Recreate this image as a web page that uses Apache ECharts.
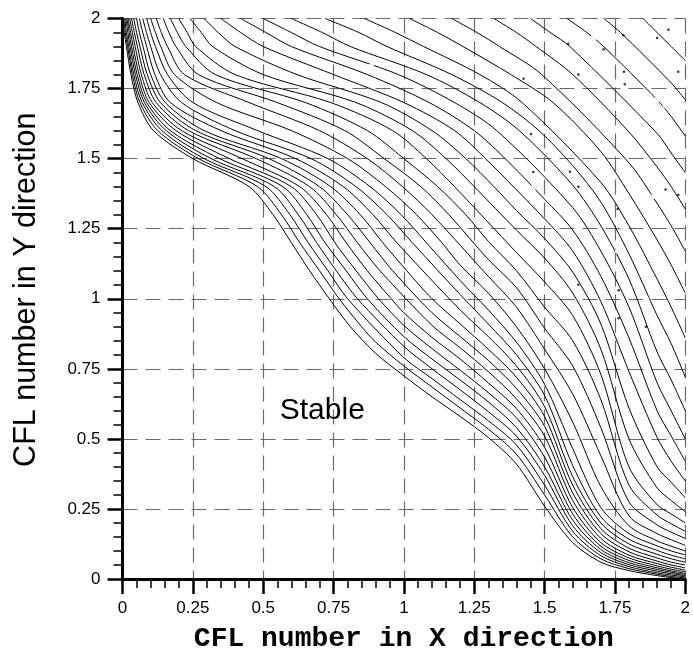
<!DOCTYPE html>
<html><head><meta charset="utf-8">
<script src="https://cdn.jsdelivr.net/npm/echarts@6/dist/echarts.min.js"></script>
<style>html,body{margin:0;padding:0;background:#fff}#c{width:693px;height:658px}</style>
</head><body><div id="c"></div>
<script>
// Shared levels: upper half -> x at y = level ; lower half -> y at x = level
const levels = [2.0, 1.95, 1.9, 1.8, 1.7, 1.6, 1.5, 1.4, 1.3, 1.2, 1.1, 1.0, 0.9];

// Upper-left half of each contour: x where y = levels[k]
const upperX = [
  [0.000,0.006,0.014,0.030,0.055,0.110,0.250,0.450,0.535,0.600,0.665,0.735,0.810],
  [0.004,0.010,0.018,0.035,0.062,0.125,0.270,0.480,0.565,0.630,0.700,0.770,0.850],
  [0.008,0.014,0.022,0.040,0.070,0.140,0.290,0.510,0.595,0.660,0.730,0.800],
  [0.012,0.019,0.027,0.046,0.078,0.155,0.315,0.540,0.625,0.690,0.760,0.835],
  [0.016,0.024,0.032,0.052,0.086,0.170,0.345,0.570,0.655,0.720,0.795,0.870],
  [0.020,0.029,0.038,0.059,0.095,0.190,0.380,0.600,0.690,0.755,0.830,0.910],
  [0.026,0.035,0.045,0.067,0.106,0.210,0.425,0.630,0.725,0.795,0.870,0.955],
  [0.032,0.042,0.053,0.077,0.120,0.235,0.475,0.665,0.760,0.835,0.915],
  [0.040,0.050,0.062,0.088,0.135,0.260,0.520,0.700,0.800,0.880,0.960],
  [0.050,0.060,0.073,0.100,0.152,0.290,0.565,0.740,0.845,0.925,1.010],
  [0.060,0.072,0.086,0.115,0.170,0.350,0.615,0.785,0.890,0.975],
  [0.072,0.085,0.100,0.135,0.210,0.400,0.670,0.830,0.940,1.030],
  [0.086,0.100,0.117,0.160,0.250,0.480,0.730,0.880,0.990,1.080],
  [0.100,0.117,0.136,0.185,0.335,0.600,0.800,0.935,1.045,1.135],
  [0.120,0.138,0.160,0.220,0.450,0.700,0.870,0.995,1.100],
  [0.145,0.165,0.190,0.270,0.550,0.790,0.930,1.060,1.160],
  [0.170,0.195,0.225,0.330,0.650,0.870,1.000,1.120,1.220],
  [0.200,0.230,0.260,0.400,0.740,0.960,1.080,1.180],
  [0.240,0.280,0.320,0.500,0.830,1.030,1.150,1.250],
  [0.290,0.340,0.400,0.620,0.920,1.100,1.220,1.320],
  [0.350,0.420,0.500,0.750,1.000,1.180,1.290],
  [0.420,0.510,0.600,0.870,1.090,1.250,1.360],
  [0.500,0.600,0.700,0.980,1.180,1.330],
  [0.600,0.710,0.810,1.080,1.270,1.410],
  [0.720,0.840,0.940,1.170,1.350,1.480],
  [0.860,0.970,1.070,1.270,1.420],
  [1.020,1.120,1.210,1.380,1.530],
  [1.170,1.260,1.340,1.490],
  [1.320,1.400,1.470,1.600],
  [1.450,1.520,1.590],
  [1.580,1.650,1.710],
  [1.710,1.770],
  [1.850,1.900]
];

// Lower-right half of each contour: y where x = levels[k]
const lowerY = [
  [0.000,0.005,0.012,0.030,0.060,0.130,0.260,0.410,0.505,0.580,0.650,0.725,0.805],
  [0.004,0.009,0.017,0.037,0.072,0.150,0.300,0.445,0.535,0.610,0.685,0.760,0.845],
  [0.008,0.014,0.022,0.044,0.083,0.170,0.335,0.478,0.565,0.640,0.715,0.790],
  [0.012,0.019,0.028,0.051,0.094,0.190,0.370,0.510,0.597,0.675,0.750,0.830],
  [0.016,0.024,0.034,0.058,0.105,0.210,0.400,0.540,0.632,0.710,0.785,0.865],
  [0.020,0.029,0.040,0.066,0.117,0.232,0.435,0.575,0.665,0.745,0.822,0.905],
  [0.026,0.035,0.047,0.075,0.130,0.255,0.470,0.608,0.700,0.785,0.862,0.950],
  [0.032,0.042,0.055,0.085,0.145,0.280,0.510,0.643,0.740,0.825,0.905],
  [0.040,0.050,0.064,0.097,0.162,0.307,0.545,0.680,0.780,0.865,0.950],
  [0.050,0.060,0.075,0.110,0.180,0.335,0.580,0.720,0.820,0.910,1.000],
  [0.060,0.072,0.088,0.125,0.200,0.365,0.615,0.760,0.865,0.960],
  [0.072,0.085,0.102,0.142,0.222,0.405,0.655,0.800,0.910,1.015],
  [0.086,0.100,0.118,0.162,0.255,0.465,0.695,0.845,0.960,1.065],
  [0.100,0.117,0.136,0.190,0.330,0.560,0.750,0.900,1.020,1.120],
  [0.120,0.140,0.162,0.225,0.440,0.660,0.820,0.970,1.080],
  [0.145,0.167,0.193,0.275,0.540,0.760,0.895,1.040,1.140],
  [0.170,0.197,0.228,0.335,0.640,0.850,0.970,1.100,1.205],
  [0.200,0.232,0.265,0.400,0.730,0.940,1.060,1.165],
  [0.240,0.280,0.325,0.500,0.820,1.020,1.145,1.245],
  [0.290,0.345,0.400,0.610,0.910,1.095,1.215,1.315],
  [0.350,0.420,0.505,0.740,0.990,1.170,1.285],
  [0.420,0.510,0.600,0.860,1.080,1.245,1.355],
  [0.500,0.600,0.700,0.970,1.170,1.325],
  [0.600,0.710,0.810,1.070,1.260,1.405],
  [0.720,0.840,0.940,1.160,1.345,1.475],
  [0.860,0.970,1.070,1.260,1.415],
  [1.020,1.120,1.210,1.375,1.525],
  [1.170,1.260,1.340,1.485],
  [1.320,1.400,1.470,1.595],
  [1.450,1.520,1.590],
  [1.580,1.650,1.710],
  [1.710,1.770],
  [1.850,1.900]
];

// Small closed contour islands and specks in the noisy upper-right region
const noiseLoops = [[0.884,1.83],[1.142,1.84],[1.62,1.58],[1.673,1.93],[1.90,1.71],[1.93,1.69],[1.90,1.29],[1.88,1.36],[1.76,1.17],[1.86,1.08],[1.86,1.00],[1.463,1.40],[1.41,1.80]];
const noiseDots = [[1.425,1.785],[1.452,1.588],[1.46,1.452],[1.59,1.453],[1.62,1.40],[1.71,1.89],[1.62,1.80],[1.584,1.91],[1.78,1.94],[1.782,1.81],[1.76,1.32],[1.785,1.765],[1.975,1.81],[1.93,1.39],[1.975,1.37],[1.763,0.93],[1.86,0.90],[1.62,1.05],[1.763,1.03],[1.94,1.96],[1.90,1.93]];

const xTickLabels = ['0','0.25','0.5','0.75','1','1.25','1.5','1.75','2'];
const yTickLabels = ['0','0.25','0.5','0.75','1','1.25','1.5','1.75','2'];
const stableText = 'Stable';
const stableAt = [[0.71, 0.60]];

function contourPoints(i) {
  const pts = [];
  upperX[i].forEach((x, k) => pts.push([x, levels[k]]));
  const lo = lowerY[i];
  for (let k = lo.length - 1; k >= 0; k--) pts.push([levels[k], lo[k]]);
  return pts;
}

const series = upperX.map((_, i) => ({
  type: 'line', data: contourPoints(i), showSymbol: false, symbol: 'none',
  smooth: 0.3, clip: true, silent: true, animation: false,
  lineStyle: { color: '#000', width: 1 }, z: 3
}));
series.push({
  type: 'scatter', data: noiseLoops, symbol: 'emptyCircle', symbolSize: 4,
  itemStyle: { color: '#fff', borderColor: '#000', borderWidth: 1 }, silent: true, animation: false, z: 4
});
series.push({
  type: 'scatter', data: noiseDots, symbol: 'circle', symbolSize: 2.5,
  itemStyle: { color: '#000' }, silent: true, animation: false, z: 4
});
series.push({
  type: 'scatter', data: stableAt, symbolSize: 1, silent: true, animation: false, z: 5,
  itemStyle: { color: '#000', opacity: 0 },
  label: { show: true, position: 'inside', formatter: stableText, fontSize: 30,
           fontFamily: 'Liberation Sans, Arial, sans-serif', color: '#000',
           textBorderWidth: 0, textBorderColor: 'transparent', opacity: 1 }
});

const axisCommon = (labels) => ({
  type: 'value', min: 0, max: 2, interval: 0.25,
  axisLine: { show: true, onZero: false, lineStyle: { color: '#000', width: 3 } },
  axisTick: { show: true, inside: false, length: 15, lineStyle: { color: '#000', width: 2.5 } },
  minorTick: { show: true, splitNumber: 5, length: 9, lineStyle: { color: '#000', width: 1.5 } },
  splitLine: { show: true, showMinLine: false, lineStyle: { color: '#6a6a6a', width: 1.2, type: [15, 8] } },
  minorSplitLine: { show: false },
  axisLabel: { show: true, fontSize: 17, fontFamily: 'Liberation Sans, Arial, sans-serif', color: '#000',
               hideOverlap: false, showMinLabel: true, showMaxLabel: true,
               formatter: (v) => labels[Math.round(v / 0.25)] }
});

const xAxis = Object.assign(axisCommon(xTickLabels), {
  name: 'CFL number in X direction', nameLocation: 'middle', nameGap: 46,
  nameTextStyle: { fontFamily: 'Liberation Mono, Courier New, monospace', fontWeight: 'bold', fontSize: 28, color: '#000' }
});
xAxis.axisLabel.margin = 21;
const yAxis = Object.assign(axisCommon(yTickLabels), {
  name: 'CFL number in Y direction', nameLocation: 'middle', nameGap: 80,
  nameTextStyle: { fontFamily: 'Liberation Sans, Arial, sans-serif', fontSize: 30.5, color: '#000', padding: [0, 0, 0, 18] }
});
yAxis.axisLabel.margin = 22;

const chart = echarts.init(document.getElementById('c'), null, { renderer: 'canvas' });
chart.setOption({
  backgroundColor: '#fff',
  animation: false,
  grid: { left: 122.5, top: 18.5, width: 565, height: 565, containLabel: false },
  xAxis: xAxis,
  yAxis: yAxis,
  series: series
});
</script></body></html>
